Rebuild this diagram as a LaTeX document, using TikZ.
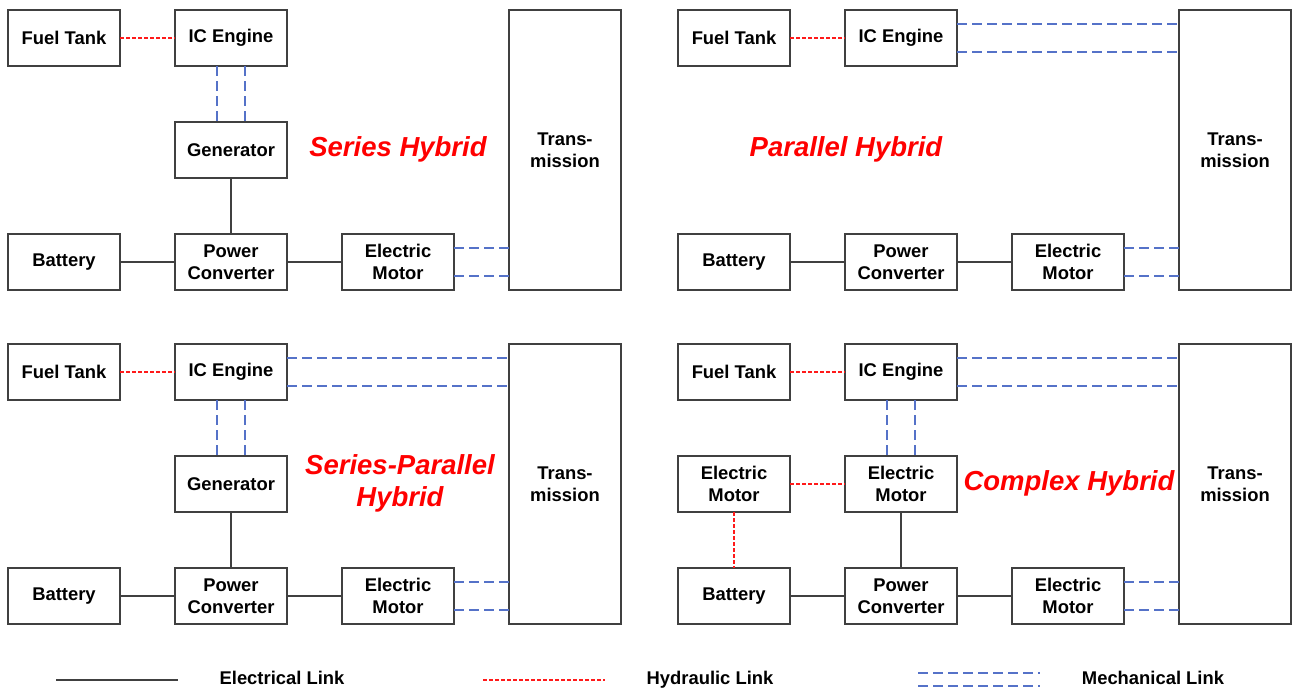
\documentclass[tikz,border=0pt]{standalone}
\usepackage{fontspec}
\setmainfont{Liberation Sans}
\usetikzlibrary{positioning}
\definecolor{boxgray}{HTML}{404040}
\definecolor{mechblue}{HTML}{5572C8}
\definecolor{hydred}{HTML}{FF1A1A}

\tikzset{
  unit/.style={draw=boxgray, line width=2pt, outer sep=0pt, minimum width=112pt, minimum height=56pt,
    inner sep=1pt, align=center, font=\fontsize{18.4}{22}\selectfont\bfseries},
  title/.style={text=red, align=center, font=\fontsize{27.5}{32}\selectfont\bfseries\itshape},
  key/.style={anchor=base, font=\fontsize{18.4}{22}\selectfont\bfseries},
  elec/.style={draw=boxgray, line width=2pt},
  hyd/.style={draw=hydred, line width=2pt, dash pattern=on 4pt off 2pt},
  mech/.style={draw=mechblue, line width=2pt, dash pattern=on 10pt off 5pt},
}

\begin{document}
\begin{tikzpicture}[x=1pt, y=-1pt, node distance=56pt and 55pt]
    \useasboundingbox (0,0) rectangle (1292,688);

    % Series hybrid
    \node[unit, anchor=north west] (s-tank) at (8,10) {Fuel Tank};
    \node[unit, right=of s-tank] (s-ice) {IC Engine};
    \node[unit, below=of s-ice] (s-gen) {Generator};
    \node[unit, below=of s-gen] (s-conv) {Power\\Converter};
    \node[unit, left=of s-conv] (s-batt) {Battery};
    \node[unit, right=of s-conv] (s-motor) {Electric\\Motor};
    \node[unit, minimum height=280pt, right=of s-motor.south east, anchor=south west] (s-trans) {Trans-\\mission};
    \node[title] (s-title) at (398,149) {Series Hybrid};

    \draw[hyd] (s-tank) -- (s-ice);
    \draw[mech] ([xshift=-14pt]s-ice.south) -- ([xshift=-14pt]s-gen.north);
    \draw[mech] ([xshift=14pt]s-ice.south) -- ([xshift=14pt]s-gen.north);
    \draw[elec] (s-gen) -- (s-conv);
    \draw[elec] (s-batt) -- (s-conv);
    \draw[elec] (s-conv) -- (s-motor);
    \draw[mech] ([yshift=14pt]s-motor.east) -- ([yshift=14pt]s-motor.east -| s-trans.west);
    \draw[mech] ([yshift=-14pt]s-motor.east) -- ([yshift=-14pt]s-motor.east -| s-trans.west);

    % Parallel hybrid
    \node[unit, anchor=north west] (p-tank) at (678,10) {Fuel Tank};
    \node[unit, right=of p-tank] (p-ice) {IC Engine};
    \node[unit, below=of p-ice, yshift=-112pt] (p-conv) {Power\\Converter};
    \node[unit, left=of p-conv] (p-batt) {Battery};
    \node[unit, right=of p-conv] (p-motor) {Electric\\Motor};
    \node[unit, minimum height=280pt, right=of p-motor.south east, anchor=south west] (p-trans) {Trans-\\mission};
    \node[title] (p-title) at (846,149) {Parallel Hybrid};

    \draw[hyd] (p-tank) -- (p-ice);
    \draw[mech] ([yshift=14pt]p-ice.east) -- ([yshift=14pt]p-ice.east -| p-trans.west);
    \draw[mech] ([yshift=-14pt]p-ice.east) -- ([yshift=-14pt]p-ice.east -| p-trans.west);
    \draw[elec] (p-batt) -- (p-conv);
    \draw[elec] (p-conv) -- (p-motor);
    \draw[mech] ([yshift=14pt]p-motor.east) -- ([yshift=14pt]p-motor.east -| p-trans.west);
    \draw[mech] ([yshift=-14pt]p-motor.east) -- ([yshift=-14pt]p-motor.east -| p-trans.west);

    % Series-parallel hybrid
    \node[unit, anchor=north west] (sp-tank) at (8,344) {Fuel Tank};
    \node[unit, right=of sp-tank] (sp-ice) {IC Engine};
    \node[unit, below=of sp-ice] (sp-gen) {Generator};
    \node[unit, below=of sp-gen] (sp-conv) {Power\\Converter};
    \node[unit, left=of sp-conv] (sp-batt) {Battery};
    \node[unit, right=of sp-conv] (sp-motor) {Electric\\Motor};
    \node[unit, minimum height=280pt, right=of sp-motor.south east, anchor=south west] (sp-trans) {Trans-\\mission};
    \node[title] (sp-title) at (400,483) {Series-Parallel\\Hybrid};

    \draw[hyd] (sp-tank) -- (sp-ice);
    \draw[mech] ([yshift=14pt]sp-ice.east) -- ([yshift=14pt]sp-ice.east -| sp-trans.west);
    \draw[mech] ([yshift=-14pt]sp-ice.east) -- ([yshift=-14pt]sp-ice.east -| sp-trans.west);
    \draw[mech] ([xshift=-14pt]sp-ice.south) -- ([xshift=-14pt]sp-gen.north);
    \draw[mech] ([xshift=14pt]sp-ice.south) -- ([xshift=14pt]sp-gen.north);
    \draw[elec] (sp-gen) -- (sp-conv);
    \draw[elec] (sp-batt) -- (sp-conv);
    \draw[elec] (sp-conv) -- (sp-motor);
    \draw[mech] ([yshift=14pt]sp-motor.east) -- ([yshift=14pt]sp-motor.east -| sp-trans.west);
    \draw[mech] ([yshift=-14pt]sp-motor.east) -- ([yshift=-14pt]sp-motor.east -| sp-trans.west);

    % Complex hybrid
    \node[unit, anchor=north west] (c-tank) at (678,344) {Fuel Tank};
    \node[unit, right=of c-tank] (c-ice) {IC Engine};
    \node[unit, below=of c-ice] (c-gen) {Electric\\Motor};
    \node[unit, left=of c-gen] (c-aux) {Electric\\Motor};
    \node[unit, below=of c-gen] (c-conv) {Power\\Converter};
    \node[unit, left=of c-conv] (c-batt) {Battery};
    \node[unit, right=of c-conv] (c-motor) {Electric\\Motor};
    \node[unit, minimum height=280pt, right=of c-motor.south east, anchor=south west] (c-trans) {Trans-\\mission};
    \node[title] (c-title) at (1069,483) {Complex Hybrid};

    \draw[hyd] (c-tank) -- (c-ice);
    \draw[mech] ([yshift=14pt]c-ice.east) -- ([yshift=14pt]c-ice.east -| c-trans.west);
    \draw[mech] ([yshift=-14pt]c-ice.east) -- ([yshift=-14pt]c-ice.east -| c-trans.west);
    \draw[mech] ([xshift=-14pt]c-ice.south) -- ([xshift=-14pt]c-gen.north);
    \draw[mech] ([xshift=14pt]c-ice.south) -- ([xshift=14pt]c-gen.north);
    \draw[hyd] (c-aux) -- (c-gen);
    \draw[hyd] (c-aux) -- (c-batt);
    \draw[elec] (c-gen) -- (c-conv);
    \draw[elec] (c-batt) -- (c-conv);
    \draw[elec] (c-conv) -- (c-motor);
    \draw[mech] ([yshift=14pt]c-motor.east) -- ([yshift=14pt]c-motor.east -| c-trans.west);
    \draw[mech] ([yshift=-14pt]c-motor.east) -- ([yshift=-14pt]c-motor.east -| c-trans.west);

    % Legend
    \coordinate (elec-a) at (56,680);
    \coordinate (elec-b) at (178,680);
    \coordinate (hyd-a) at (483,680);
    \coordinate (hyd-b) at (605,680);
    \coordinate (mech-a) at (918,673);
    \coordinate (mech-b) at (1040,673);
    \coordinate (mech-c) at (918,686);
    \coordinate (mech-d) at (1040,686);
    \draw[elec] (elec-a) -- (elec-b);
    \draw[hyd] (hyd-a) -- (hyd-b);
    \draw[mech] (mech-a) -- (mech-b);
    \draw[mech] (mech-c) -- (mech-d);
    \node[key] (elec-key) at (282,684) {Electrical Link};
    \node[key] (hyd-key) at (710,684) {Hydraulic Link};
    \node[key] (mech-key) at (1153,684) {Mechanical Link};
\end{tikzpicture}
\end{document}
